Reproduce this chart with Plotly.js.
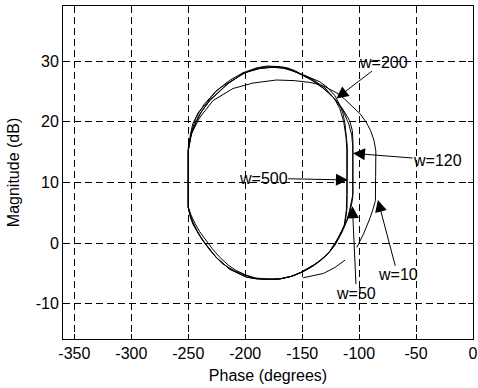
<!DOCTYPE html>
<html>
<head>
<meta charset="utf-8">
<script src="https://cdn.plot.ly/plotly-3.0.1.min.js"></script>
<style>html,body{margin:0;padding:0;background:#fff;}#chart{width:478px;height:388px;}</style>
</head>
<body>
<div id="chart"></div>
<script>
// Phase (degrees) / magnitude (dB) of each curve
const phaseW500 = [-250, -248, -246, -241, -237, -231, -225, -218, -211, -205, -199, -193, -187, -181, -175, -169, -163, -157, -152, -146, -140, -134.4, -128, -121.2, -117, -114.2, -112.4, -111, -110.4, -110.3, -110.3, -110.6, -112.4, -115.5, -119.7, -125, -131.4, -138, -146.1, -152, -157.9, -163.5, -169.6, -175, -181, -190.1, -198.9, -206, -213.6, -219.5, -225.3, -231.2, -237.1, -241, -245.9, -248.5, -250, -250];
const magW500   = [15.3, 18.0, 19.7, 21.6, 22.4, 23.8, 25.2, 26.1, 26.9, 27.6, 28.2, 28.6, 29.0, 29.2, 29.2, 29.1, 28.9, 28.5, 28.0, 27.5, 27.1, 26.6, 25.7, 24.3, 22.8, 21.4, 19.7, 17.5, 16.0, 14.0, 8.0, 5.8, 3.1, 1.9, 0.4, -1.2, -2.4, -3.4, -4.3, -4.9, -5.4, -5.7, -5.9, -5.95, -5.95, -5.9, -5.6, -5.0, -4.3, -3.3, -2.4, -1.0, 0.4, 1.5, 3.1, 4.5, 5.9, 15.3];

const phaseW200 = [-250, -247, -241, -231.2, -223, -215.1, -201.9, -187.2, -175, -163, -152, -140, -130, -122, -117, -113.5, -111.5, -110.8, -110.8, -111.2, -113, -116, -120, -126, -132, -139, -146, -153, -160, -168, -176, -184, -192, -200, -208, -215, -222, -229, -235, -240, -244, -247.5, -250, -250];
const magW200   = [15.3, 18.2, 21.0, 23.5, 25.0, 26.3, 28.0, 28.8, 29.0, 28.8, 27.9, 26.9, 25.6, 23.9, 22.2, 20.0, 17.5, 15.5, 8.0, 5.5, 3.0, 1.6, 0.3, -1.4, -2.6, -3.6, -4.4, -5.0, -5.5, -5.85, -5.95, -5.9, -5.7, -5.2, -4.5, -3.6, -2.4, -0.9, 0.6, 1.9, 3.2, 4.6, 5.9, 15.3];

const phaseW120 = [-250, -247, -243, -236, -226, -214, -202, -190, -178, -166, -154, -142, -132, -122.9, -115, -108.3, -106, -105.4, -105.4, -106.5, -108.5, -110.9, -114, -118.2, -125.5, -134.3, -140, -146.1, -152, -160, -170, -180, -190, -199, -206, -213.6, -219.5, -225.3, -231.2, -237.1, -242, -246, -250, -250];
const magW120   = [15.3, 18.5, 20.8, 22.9, 25.0, 26.8, 28.1, 28.9, 29.1, 28.9, 28.1, 26.9, 25.6, 24.1, 22.3, 20.2, 18.6, 16.9, 8.1, 7.0, 5.3, 3.7, 2.4, 0.9, -1.3, -2.9, -3.6, -4.3, -4.9, -5.5, -5.9, -5.95, -5.85, -5.6, -5.0, -4.3, -3.3, -2.4, -1.0, 0.4, 2.0, 3.4, 5.9, 15.3];

const phaseW50 = [-250, -248, -244, -238, -231.2, -223, -215.1, -208, -201.9, -194, -187.2, -178, -168, -158, -148, -138, -129, -121, -114, -109, -106.5, -105.6, -105.6, -107, -110, -115, -121, -128, -135, -142, -150, -160, -170, -180, -190, -200, -210, -220, -230, -238, -244, -248, -250, -250];
const magW50   = [15.3, 17.5, 19.6, 21.8, 23.5, 25.0, 26.3, 27.2, 28.0, 28.5, 28.8, 29.0, 28.9, 28.4, 27.6, 26.5, 25.2, 23.7, 21.8, 19.6, 17.8, 16.0, 7.5, 6.0, 4.0, 1.8, -0.3, -1.9, -3.0, -3.9, -4.8, -5.5, -5.9, -5.95, -5.85, -5.3, -4.5, -3.4, -1.4, 0.6, 2.6, 4.3, 5.9, 15.3];

const phaseW10 = [-250, -250, -247.4, -240, -228.3, -210.7, -193.1, -172.5, -157, -143.2, -132, -125.6, -118, -113, -106, -99, -94, -90, -87, -85.3, -85.5, -85.7, -87.8, -90.3, -96.2, -102.0, null, -112.4, -117, -121.2, -131.4, -140, -149.1];
const magW10   = [6.0, 15.8, 18.0, 20.7, 23.5, 25.5, 26.4, 26.9, 26.8, 26.5, 26.0, 25.4, 24.6, 23.8, 22.5, 21.3, 20.0, 18.6, 17.0, 15.2, 11.0, 7.0, 5.6, 4.2, 1.5, -0.7, null, -2.8, -3.5, -4.0, -5.0, -5.4, -5.7];

const xTicks = [-350, -300, -250, -200, -150, -100, -50, 0];
const yTicks = [-10, 0, 10, 20, 30];

// Labels: text position [phase, mag] and arrow tip [phase, mag]
const labelText  = ['w=200', 'w=120', 'w=500', 'w=50', 'w=10'];
const labelPhase = [-78.5, -31.1, -184.2, -102.4, -66.2];
const labelMag   = [29.84, 13.71, 10.70, -8.23, -5.21];
const tipPhase   = [-120.0, -105.4, -109.8, -105.9, -83.5];
const tipMag     = [23.86, 14.81, 10.42, 6.07, 7.13];

const series = [
  [phaseW500, magW500], [phaseW200, magW200], [phaseW120, magW120],
  [phaseW50, magW50], [phaseW10, magW10]
];

const traces = series.map(s => ({
  x: s[0], y: s[1], type: 'scatter', mode: 'lines',
  line: {color: '#000', width: 1}, connectgaps: false,
  hoverinfo: 'skip', showlegend: false
}));

const font = {family: '"Liberation Sans", Arial, sans-serif', size: 16, color: '#000'};

const annotations = labelText.map((t, i) => ({
  text: t, x: tipPhase[i], y: tipMag[i], ax: labelPhase[i], ay: labelMag[i],
  xref: 'x', yref: 'y', axref: 'x', ayref: 'y',
  showarrow: true, arrowhead: 2, arrowsize: 2.4, arrowwidth: 1, arrowcolor: '#000',
  font: font, bgcolor: 'rgba(0,0,0,0)', borderpad: 0
}));

const axisCommon = {
  showline: true, linecolor: '#000', linewidth: 1, mirror: 'ticks',
  ticks: 'inside', ticklen: 5, tickcolor: '#000', tickwidth: 1,
  showgrid: true, gridcolor: '#000', gridwidth: 1, griddash: '7px,4px',
  zeroline: false, tickfont: font, automargin: false, fixedrange: true
};

const layout = {
  width: 478, height: 388,
  margin: {l: 63, r: 5, t: 6, b: 49},
  paper_bgcolor: '#fff', plot_bgcolor: '#fff',
  font: font, showlegend: false,
  xaxis: Object.assign({}, axisCommon, {
    range: [-360, 0], tickmode: 'array', tickvals: xTicks,
    ticktext: xTicks.map(String),
    title: {text: 'Phase (degrees)', font: font, standoff: 8}
  }),
  yaxis: Object.assign({}, axisCommon, {
    range: [-15.8, 39.1], tickmode: 'array', tickvals: yTicks,
    ticktext: yTicks.map(String),
    title: {text: 'Magnitude (dB)', font: font, standoff: 12}
  }),
  annotations: annotations
};

Plotly.newPlot('chart', traces, layout, {staticPlot: true, displayModeBar: false});
</script>
</body>
</html>
